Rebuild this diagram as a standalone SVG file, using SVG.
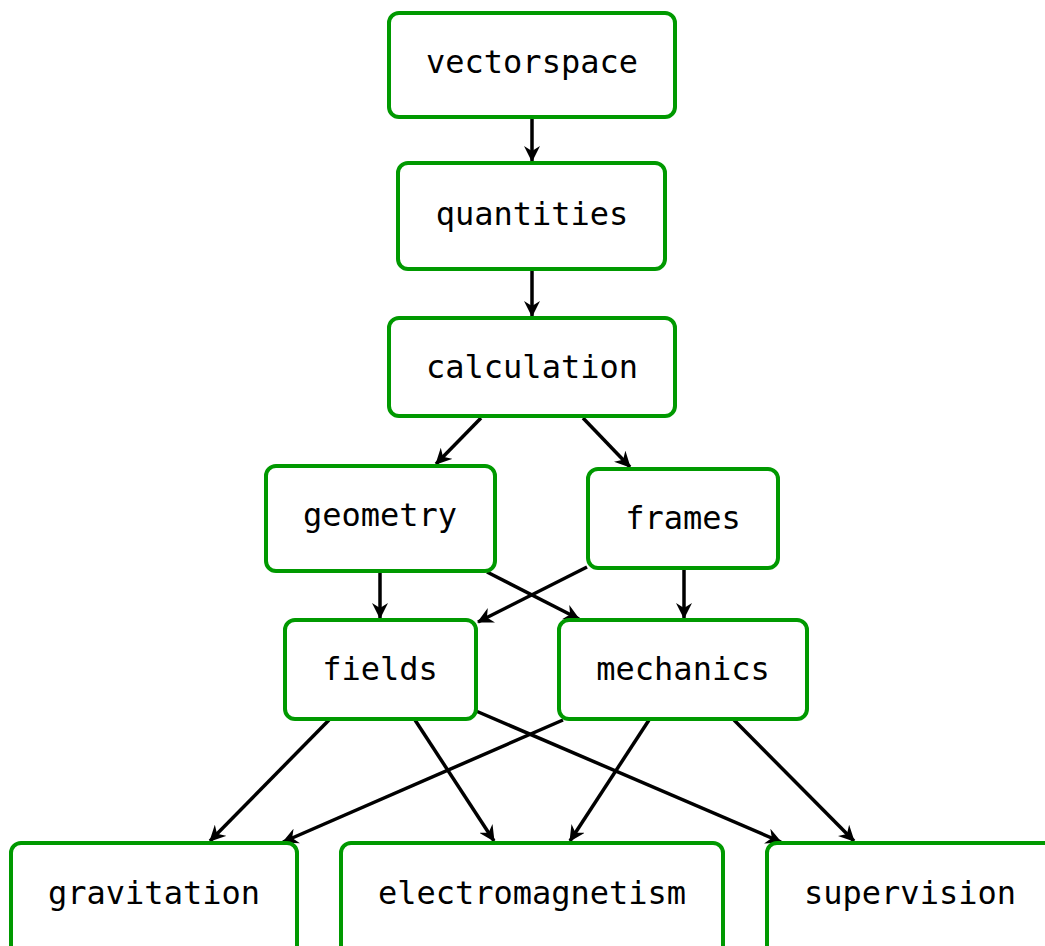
<svg xmlns="http://www.w3.org/2000/svg" width="1045" height="946" viewBox="0 0 1045 946">
<style>
.box{fill:#fff;stroke:#009900;stroke-width:4}
.lbl{font-family:"DejaVu Sans Mono",monospace;font-size:32px;fill:#000;text-anchor:middle}
.edge{stroke:#000;stroke-width:3.5;fill:none;marker-end:url(#ah)}
</style>
<defs>
<marker id="ah" markerUnits="userSpaceOnUse" viewBox="0 0 16 16" refX="15" refY="8" markerWidth="16" markerHeight="16" orient="auto">
<path d="M0,0 L16,8 L0,16 L5,8 z" fill="#000"/>
</marker>
</defs>
<rect width="1045" height="946" fill="#fff"/>
<g id="connectors">
<line class="edge" x1="532" y1="118" x2="532" y2="161"/>
<line class="edge" x1="532" y1="270" x2="532" y2="316"/>
<line class="edge" x1="481" y1="418" x2="436" y2="464"/>
<line class="edge" x1="583" y1="418" x2="630" y2="467"/>
<line class="edge" x1="380" y1="572" x2="380" y2="618"/>
<line class="edge" x1="487" y1="572" x2="579" y2="619"/>
<line class="edge" x1="587" y1="567" x2="478" y2="622"/>
<line class="edge" x1="684" y1="569" x2="684" y2="618"/>
<line class="edge" x1="329" y1="720" x2="210" y2="841"/>
<line class="edge" x1="415" y1="720" x2="494" y2="841"/>
<line class="edge" x1="476" y1="711" x2="781" y2="842"/>
<line class="edge" x1="563" y1="720" x2="283" y2="842"/>
<line class="edge" x1="649" y1="720" x2="570" y2="841"/>
<line class="edge" x1="734" y1="720" x2="854" y2="841"/>
</g>
<g id="vectorspace"><rect class="box" x="389" y="13" width="286" height="104" rx="10"/><text class="lbl" x="532" y="73">vectorspace</text></g>
<g id="quantities"><rect class="box" x="398" y="163" width="267" height="106" rx="10"/><text class="lbl" x="532" y="225">quantities</text></g>
<g id="calculation"><rect class="box" x="389" y="318" width="286" height="98" rx="10"/><text class="lbl" x="532" y="378">calculation</text></g>
<g id="geometry"><rect class="box" x="266" y="466" width="229" height="105" rx="10"/><text class="lbl" x="380" y="526">geometry</text></g>
<g id="frames"><rect class="box" x="588" y="469" width="190" height="99" rx="10"/><text class="lbl" x="683" y="529">frames</text></g>
<g id="fields"><rect class="box" x="285" y="620" width="191" height="99" rx="10"/><text class="lbl" x="380" y="680">fields</text></g>
<g id="mechanics"><rect class="box" x="559" y="620" width="248" height="99" rx="10"/><text class="lbl" x="683" y="680">mechanics</text></g>
<g id="gravitation"><rect class="box" x="11" y="843" width="286" height="120" rx="10"/><text class="lbl" x="154" y="904">gravitation</text></g>
<g id="electromagnetism"><rect class="box" x="341" y="843" width="382" height="120" rx="10"/><text class="lbl" x="532" y="904">electromagnetism</text></g>
<g id="supervision"><rect class="box" x="767" y="843" width="300" height="120" rx="10"/><text class="lbl" x="910" y="904">supervision</text></g>
</svg>
